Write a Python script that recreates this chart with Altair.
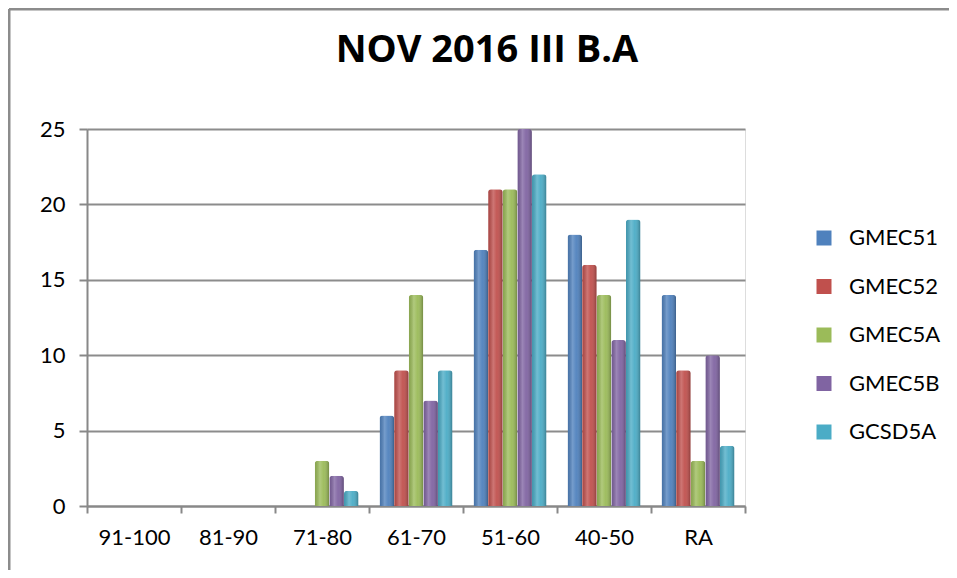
import altair as alt
import pandas as pd

categories = ["91-100", "81-90", "71-80", "61-70", "51-60", "40-50", "RA"]
series = ["GMEC51", "GMEC52", "GMEC5A", "GMEC5B", "GCSD5A"]
colors = ["#4F81BD", "#C0504D", "#9BBB59", "#8064A2", "#4BACC6"]

gmec51 = [0, 0, 0, 6, 17, 18, 14]
gmec52 = [0, 0, 0, 9, 21, 16, 9]
gmec5a = [0, 0, 3, 14, 21, 14, 3]
gmec5b = [0, 0, 2, 7, 25, 11, 10]
gcsd5a = [0, 0, 1, 9, 22, 19, 4]

values = [gmec51, gmec52, gmec5a, gmec5b, gcsd5a]
rows = []
for s, vals in zip(series, values):
    for c, v in zip(categories, vals):
        rows.append({"category": c, "series": s, "value": v})
df = pd.DataFrame(rows)

W, H = 658, 377
PL, PT = 79, 121
PR = 941 - PL - W
PB = 562 - PT - H

FONT = "Lato"

x_enc = alt.X("category:N", sort=categories,
              scale=alt.Scale(paddingInner=0, paddingOuter=0),
              axis=alt.Axis(title=None, labelAngle=0, labelFontSize=22, labelColor="#000000",
                            labelFont=FONT, tickBand="extent", tickSize=7, tickColor="#888888",
                            tickWidth=2, domainColor="#888888", domainWidth=2, labelPadding=14,
                            grid=False))
xoff_enc = alt.XOffset("series:N", sort=series,
                       scale=alt.Scale(paddingInner=0, paddingOuter=0.72))
y_enc = alt.Y("value:Q", scale=alt.Scale(domain=[0, 25], nice=False),
              axis=alt.Axis(title=None, values=[0, 5, 10, 15, 20, 25], labelFontSize=22,
                            labelColor="#000000", labelFont=FONT, tickSize=8, tickColor="#888888",
                            tickWidth=2, domainColor="#888888", domainWidth=2, labelPadding=14,
                            grid=True, gridColor="#8c8c8c", gridWidth=2))

bars = alt.Chart(df).mark_bar(cornerRadiusTopLeft=3, cornerRadiusTopRight=3).encode(
    x=x_enc,
    xOffset=xoff_enc,
    y=y_enc,
    color=alt.Color("series:N", sort=series,
                    scale=alt.Scale(domain=series, range=colors),
                    legend=alt.Legend(title=None, orient="none", legendX=726, legendY=98,
                                      symbolType="square", symbolSize=225, symbolStrokeWidth=0,
                                      labelFontSize=22, labelFont=FONT, labelColor="#000000",
                                      rowPadding=26.5, labelOffset=14)),
)

shade = alt.Chart(df).mark_bar(cornerRadiusTopLeft=3, cornerRadiusTopRight=3).encode(
    x=alt.X("category:N", sort=categories),
    xOffset=alt.XOffset("series:N", sort=series),
    y=alt.Y("value:Q"),
    fill=alt.value({
        "gradient": "linear", "x1": 0, "y1": 0, "x2": 1, "y2": 0,
        "stops": [
            {"offset": 0, "color": "rgba(0,0,0,0.12)"},
            {"offset": 0.35, "color": "rgba(255,255,255,0.22)"},
            {"offset": 0.6, "color": "rgba(255,255,255,0.05)"},
            {"offset": 1, "color": "rgba(0,0,0,0.28)"},
        ],
    }),
)

border = alt.Chart(pd.DataFrame({"a": [0]})).mark_rule(color="#8c8c8c", strokeWidth=3).encode(
    x=alt.value(-PL + 1), x2=alt.value(W + PR), y=alt.value(-PT + 1)
)
border2 = alt.Chart(pd.DataFrame({"a": [0]})).mark_rule(color="#8c8c8c", strokeWidth=3).encode(
    x=alt.value(-PL + 1), y=alt.value(-PT + 1), y2=alt.value(H + PB)
)

chart = alt.layer(bars, shade, border, border2).properties(
    width=W, height=H,
    title=alt.TitleParams("NOV 2016 III B.A", fontSize=38, font="Open Sans", fontWeight="bold",
                          color="#000000", anchor="middle", frame="group",
                          baseline="alphabetic", offset=0, dx=71, dy=92),
    autosize=alt.AutoSizeParams(type="none"),
    padding={"left": PL, "top": PT, "right": PR, "bottom": PB},
).configure_view(stroke=None).configure(background="white")

chart.save("out.html", embed_options={"renderer": "svg", "actions": False})
